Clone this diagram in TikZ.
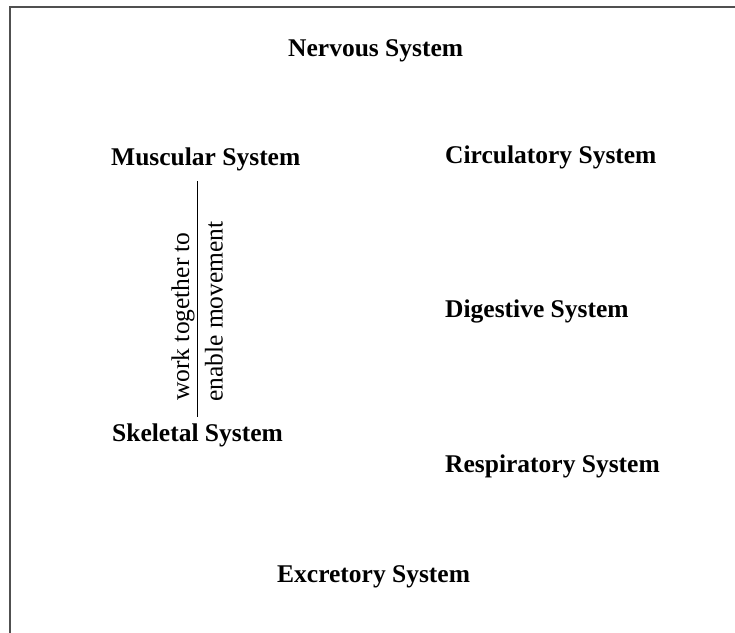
\documentclass[tikz,border=0pt]{standalone}
\usepackage{fontspec}
\setmainfont{Liberation Serif}

\begin{document}
\begin{tikzpicture}[x=1pt,y=-1pt]
\tikzstyle{every node}=[inner sep=0pt, font=\fontsize{25.5}{30}\selectfont]
\tikzstyle{sys}=[anchor=base west, font=\fontsize{25.5}{30}\selectfont\bfseries]
\tikzstyle{lbl}=[anchor=base west, rotate=90]
\useasboundingbox (0,0) rectangle (735,632);
\draw[line width=2pt, color={rgb,255:red,80;green,80;blue,80}] (10,7) rectangle (760,660);
\draw (288,56) node (nerv) [sys] {Nervous System};
\draw (111,165) node (musc) [sys] {Muscular System};
\draw (445,163) node (circ) [sys] {Circulatory System};
\draw (445,317) node (dige) [sys] {Digestive System};
\draw (112,441) node (skel) [sys] {Skeletal System};
\draw (445,472) node (resp) [sys] {Respiratory System};
\draw (277,582) node (excr) [sys] {Excretory System};
\draw[shorten <=10.5pt, shorten >=6.6pt] (musc.south -| skel.north) -- (skel.north);
\draw (189,401) node (work) [lbl] {work together to};
\draw (222.5,402) node (move) [lbl] {enable movement};
\end{tikzpicture}
\end{document}
